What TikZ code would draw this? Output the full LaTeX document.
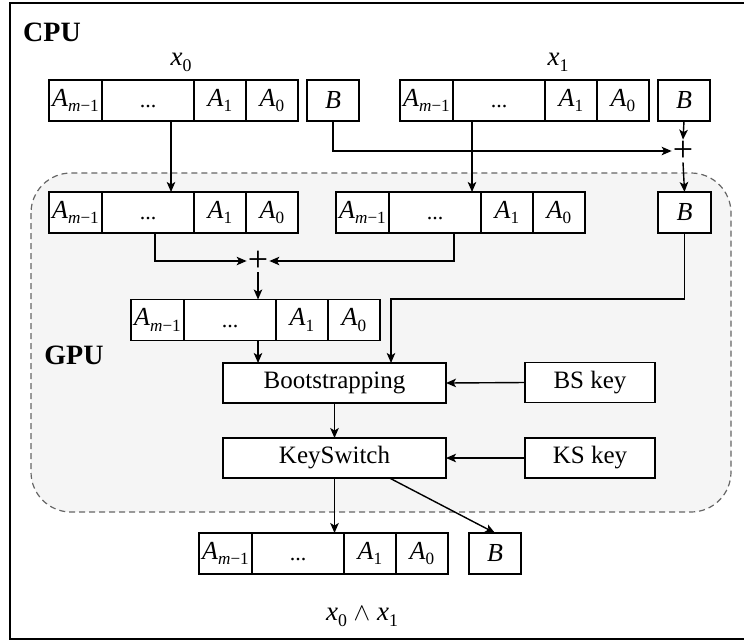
\documentclass[tikz,border=0pt]{standalone}
\usepackage{fontspec}
\setmainfont{Liberation Serif}
\usetikzlibrary{arrows.meta,calc}
\makeatletter
\newcommand\mysub[1]{\raisebox{-0.22em}{\fontsize{0.66\dimexpr\f@size pt\relax}{1}\selectfont #1}}
\makeatother
\newcommand\mA[1]{\textit{A}\mysub{#1}}
\newcommand\mx[1]{\textit{x}\mysub{#1}}
\tikzset{
  cell/.style={draw,line width=1.3pt,fill=white,minimum height=41pt,inner sep=0pt,outer sep=0pt,font=\fontsize{26}{28}\selectfont,anchor=west},
  procbox/.style={draw,line width=1.3pt,fill=white,minimum height=40pt,inner sep=0pt,outer sep=0pt,font=\fontsize{25}{27}\selectfont},
  arr/.style={line width=1.4pt,-{Stealth[length=10pt,width=8.5pt,inset=2.5pt]}},
  plusn/.style={inner sep=1pt,font=\fontsize{36}{38}\selectfont},
  lbl/.style={inner sep=0pt,font=\fontsize{27}{29}\selectfont},
  title/.style={inner sep=0pt,font=\fontsize{28}{30}\selectfont\bfseries},
}
% name, x left, y centre
\newcommand\ctrow[3]{%
  \node[cell,minimum width=53pt] (#1-m) at (#2,#3) {\mA{\textit{m}−1}};
  \node[cell,minimum width=92pt,font=\fontsize{22}{24}\selectfont] (#1-d) at (#1-m.east) {\vphantom{A}...};
  \node[cell,minimum width=52pt] (#1-1) at (#1-d.east) {\mA{1}};
  \node[cell,minimum width=52pt] (#1-0) at (#1-1.east) {\mA{0}};
}
\begin{document}
\begin{tikzpicture}[x=1pt,y=-1pt]
\useasboundingbox (0,0) rectangle (744,641);
% outer CPU frame
\draw[line width=1.8pt] (10,3) rectangle (748,639);
\node[title] (cpu) at (52,32) {CPU};
% GPU region
\draw[dashed,dash pattern=on 6pt off 4pt,line width=1.2pt,draw=black!60,fill=black!4,rounded corners=40pt] (31,173) rectangle (731,512);
\node[title] (gpu) at (74,355) {GPU};
% labels
\node[lbl] (lx0) at (181,62) {\mx{0}};
\node[lbl] (lx1) at (558,62) {\mx{1}};
\node[lbl] (lres) at (362,617) {\mx{0} $\wedge$ \mx{1}};
% top row
\ctrow{t0}{49}{100.5}
\node[cell,minimum width=52pt] (tB0) at (307,100.5) {\textit{B}};
\ctrow{t1}{400}{100.5}
\node[cell,minimum width=52pt] (tB1) at (658,100.5) {\textit{B}};
% GPU row
\ctrow{g0}{49}{212.5}
\ctrow{g1}{336}{212.5}
\node[cell,minimum width=53pt] (gB) at (658,212.5) {\textit{B}};
% sum row
\ctrow{h}{131}{320}
% processing
\node[procbox,minimum width=223pt] (boot) at (334.5,383) {Bootstrapping};
\node[procbox,minimum width=130pt] (bskey) at (590,382.5) {BS key};
\node[procbox,minimum width=223pt] (ks) at (334.5,458) {KeySwitch};
\node[procbox,minimum width=130pt] (kskey) at (590,458) {KS key};
% output row
\ctrow{o}{199}{553.5}
\node[cell,minimum width=52pt] (oB) at (469,553.5) {\textit{B}};
% plus nodes
\node[plusn] (p1) at (683,151) {+};
\node[plusn] (p2) at (258,261) {+};
% connectors
\draw[arr] ([xshift=23pt]t0-d.south) -- ([xshift=23pt]g0-d.north);
\draw[arr] ([xshift=-27pt]t1-d.south) -- ([xshift=-27pt]t1-d.south |- g1-d.north);
\draw[arr] (tB0.south) |- (p1.west);
\draw[arr] (tB1.south) -- (p1.north);
\draw[arr] (p1.south) -- (gB.north);
\draw[arr] ([xshift=7pt]g0-d.south) |- (p2.west);
\draw[arr] ([xshift=19pt]g1-d.south) |- (p2.east);
\draw[arr] (p2.south) -- (p2.south |- h-d.north);
\coordinate (bturn) at (391,299);
\draw[arr] (gB.south) |- (bturn) -- (bturn |- boot.north);
\draw[arr] ([xshift=28pt]h-d.south) -- ([xshift=28pt]h-d.south |- boot.north);
\draw[arr] (boot.south) -- (ks.north);
\draw[arr] (bskey.west) -- (boot.east);
\draw[arr] (kskey.west) -- (ks.east);
\draw[arr] (ks.south) -- (ks.south |- o-d.north);
\draw[arr] ([xshift=55pt]ks.south) -- (oB.north);
\end{tikzpicture}
\end{document}
